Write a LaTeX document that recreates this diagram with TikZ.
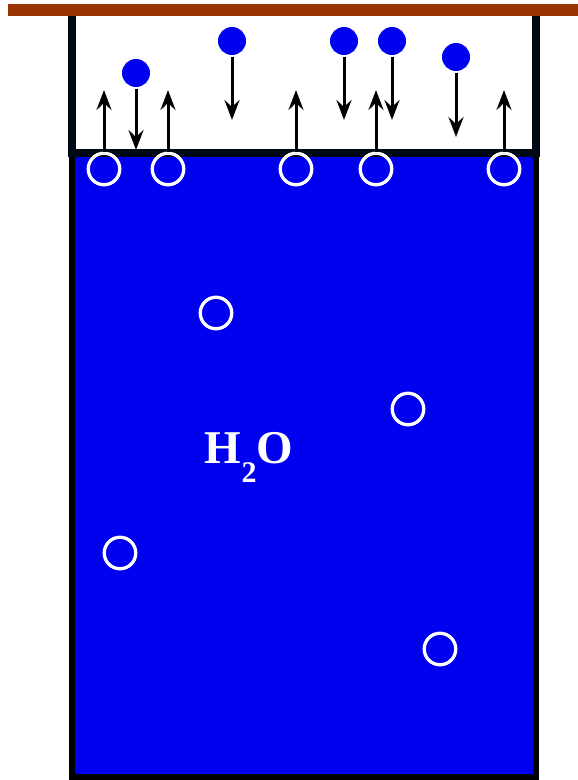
\documentclass[tikz,border=0pt]{standalone}
\usepackage{fontspec}
\setmainfont{Liberation Serif}
\usetikzlibrary{arrows.meta}

\definecolor{water}{RGB}{0,0,240}
\definecolor{lid brown}{RGB}{153,51,0}
\definecolor{wall dark}{RGB}{0,8,20}

\begin{document}
\begin{tikzpicture}[x=1pt, y=-1pt,
    liquid mol/.style={circle, draw=white, line width=3.3pt, minimum size=31.5pt, inner sep=0pt},
    vapor mol/.style={circle, fill=water, minimum size=28pt, inner sep=0pt},
    flux/.style={-{Stealth[length=20pt, width=15pt, inset=7pt]}, line width=3pt, draw=black},
    lbl/.style={text=white, font=\bfseries\fontsize{47}{56}\selectfont, inner sep=0pt}
]

\useasboundingbox (0,0) rectangle (578,780);

% ------------------------------------------------------------------------------
% 1. RECIPIENTE (tapa, agua y espacio de vapor)
% ------------------------------------------------------------------------------
\fill[lid brown] (8,4) rectangle (578,16);
\draw[line width=5.5pt, fill=water] (72,153) rectangle (536,777);
\draw[line width=7.5pt, draw=wall dark] (72,16) -- (72,153) -- (536,153) -- (536,16);

\node[lbl, anchor=base] (formula) at (249,463)
    {H\raisebox{-19pt}{\fontsize{30}{32}\selectfont 2}O};

% ------------------------------------------------------------------------------
% 2. MOLECULAS EN EL LIQUIDO (superficie y fondo)
% ------------------------------------------------------------------------------
\foreach \i/\x in {1/104, 2/168, 3/296, 4/376, 5/504} {
    \node[liquid mol] (s\i) at (\x,169) {};
}
\foreach \i/\x/\y in {1/216/313, 2/408/409, 3/120/553, 4/440/649} {
    \node[liquid mol] (b\i) at (\x,\y) {};
}

% ------------------------------------------------------------------------------
% 3. MOLECULAS DE VAPOR
% ------------------------------------------------------------------------------
\foreach \i/\x/\y in {1/136/73, 2/232/41, 3/344/41, 4/392/41, 5/456/57} {
    \node[vapor mol] (v\i) at (\x,\y) {};
}

% ------------------------------------------------------------------------------
% 4. FLUJOS (evaporacion hacia arriba, condensacion hacia abajo)
% ------------------------------------------------------------------------------
\foreach \i in {1,...,5} {
    \draw[flux] (s\i.north) -- (s\i |- 0,90);
}
\foreach \i/\e in {1/150, 2/120, 3/120, 4/120, 5/137} {
    \draw[flux] ([yshift=-2pt]v\i.south) -- (v\i |- 0,\e);
}

\end{tikzpicture}
\end{document}
